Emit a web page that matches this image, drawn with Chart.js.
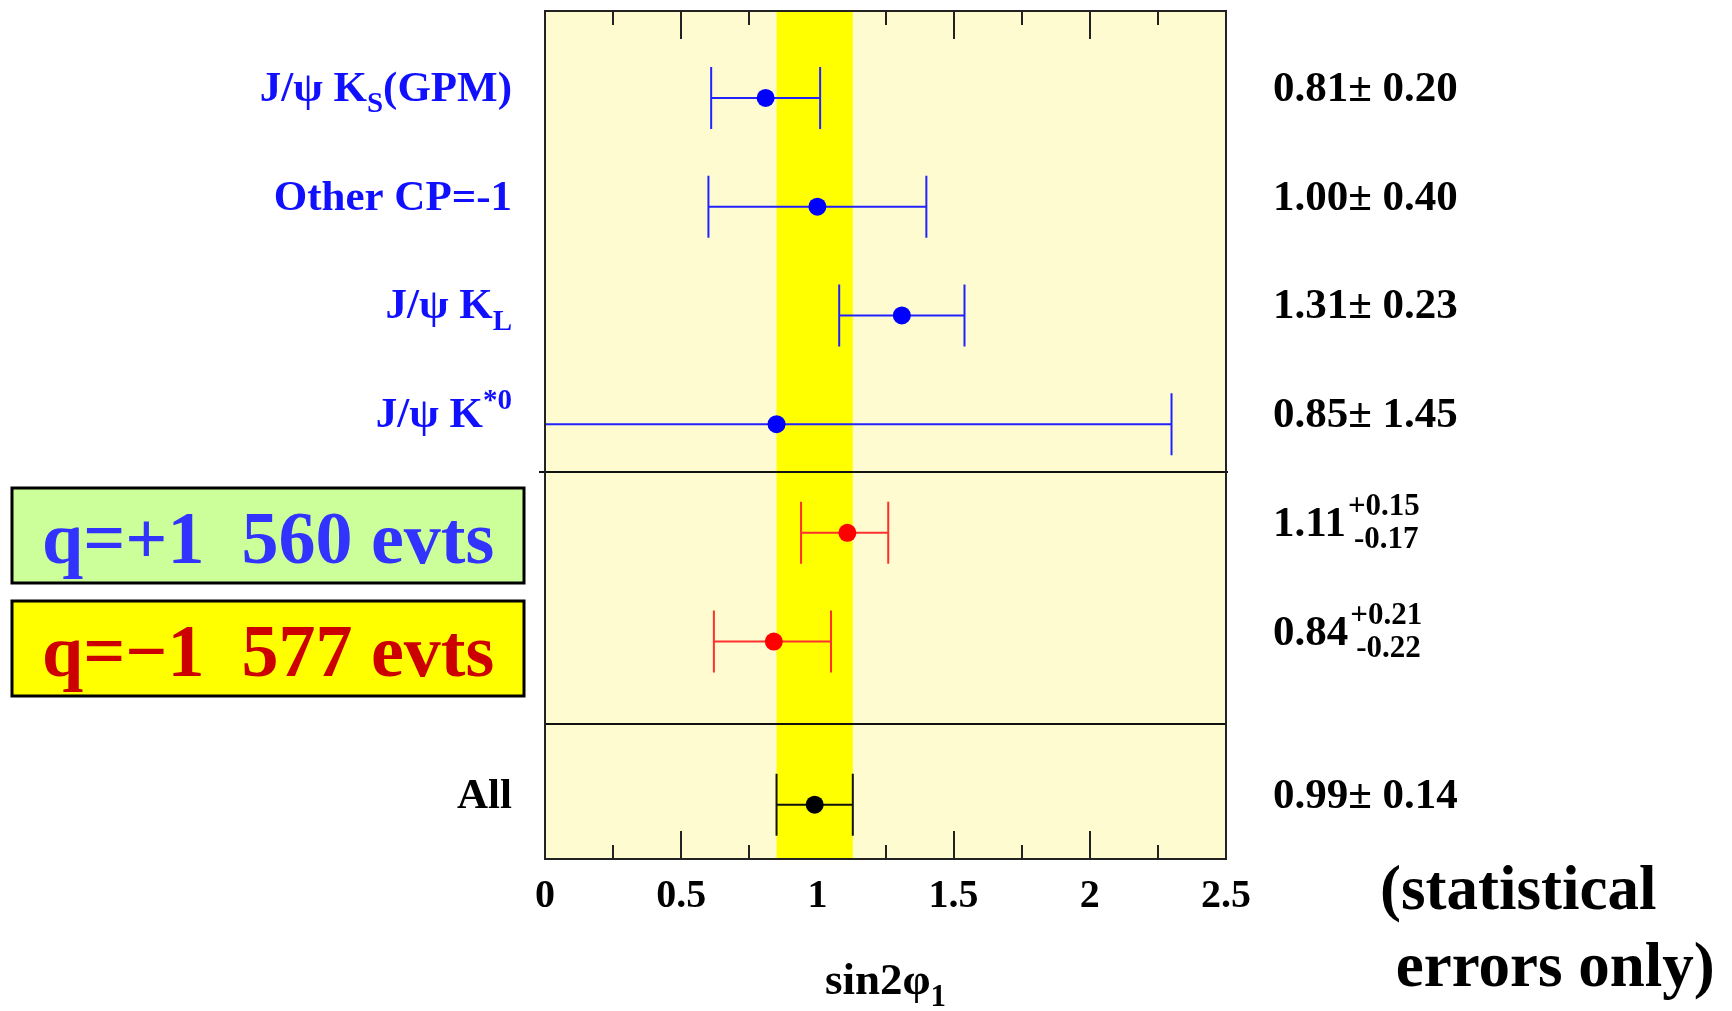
<!DOCTYPE html>
<html><head><meta charset="utf-8">
<script src="https://cdn.jsdelivr.net/npm/chart.js@4.4.0/dist/chart.umd.min.js"></script>
<style>html,body{margin:0;padding:0;background:#fff;overflow:hidden}#c{display:block}</style>
</head><body>
<canvas id="c" width="1732" height="1011"></canvas>
<script>
// ---------------- data ----------------
const channelLabels = [
  [['J/ψ K','n'],['S','sub'],['(GPM)','n']],
  [['Other CP=-1','n']],
  [['J/ψ K','n'],['L','sub']],
  [['J/ψ K','n'],['*0','sup']],
  null,
  null,
  [['All','n']]
];
const rowPos    = [1, 2, 3, 4, 5, 6, 7.5];
const values    = [0.81, 1.00, 1.31, 0.85, 1.11, 0.84, 0.99];
const errPlus   = [0.20, 0.40, 0.23, 1.45, 0.15, 0.21, 0.14];
const errMinus  = [0.20, 0.40, 0.23, 1.45, 0.17, 0.22, 0.14];
const groups    = ['blue','blue','blue','blue','red','red','black'];
const resultMain = ['0.81± 0.20','1.00± 0.40','1.31± 0.23','0.85± 1.45','1.11','0.84','0.99± 0.14'];
const resultUp   = [null,null,null,null,'+0.15','+0.21',null];
const resultDown = [null,null,null,null,'-0.17','-0.22',null];
const separators = [4.44, 6.76];
const bandRange  = [0.85, 1.13];
const xMin = 0, xMax = 2.5, xStep = 0.5, xMinorStep = 0.25;
const yMin = 0.2, yMax = 8;
const boxTexts = ['q=+1  560 evts', 'q=\u22121  577 evts'];
const xTitle = [['sin2φ','n'],['1','sub']];
const noteLines = ['(statistical', ' errors only)'];

// ---------------- styles ----------------
const FONT = '"Liberation Serif","Times New Roman",serif';
const markerColor = {blue:'#0000ff', red:'#ff0000', black:'#000000'};
const lineColor   = {blue:'#2222ff', red:'#ff3030', black:'#111111'};
const labelColor  = {blue:'#1010ff', red:'#cc0000', black:'#000000'};

function drawRich(ctx, parts, x, y, align, size, color, weight){
  const f = k => `${weight||'bold'} ${k==='n'?size:Math.round(size*0.68)}px ${FONT}`;
  let w = 0;
  parts.forEach(p=>{ctx.font=f(p[1]); w+=ctx.measureText(p[0]).width;});
  let cx = align==='right' ? x-w : (align==='center' ? x-w/2 : x);
  ctx.fillStyle = color;
  ctx.textAlign = 'left';
  ctx.textBaseline = 'alphabetic';
  parts.forEach(p=>{
    ctx.font = f(p[1]);
    const dy = p[1]==='sub' ? size*0.26 : (p[1]==='sup' ? -size*0.42 : 0);
    ctx.fillText(p[0], cx, y+dy);
    cx += ctx.measureText(p[0]).width;
  });
}

const backdrop = {
  id:'backdrop',
  beforeDraw(chart){
    const {ctx, chartArea:a, scales:{x,y}} = chart;
    ctx.save();
    ctx.fillStyle = '#fdfbcf';
    ctx.fillRect(a.left, a.top, a.right-a.left, a.bottom-a.top);
    // ticks
    ctx.strokeStyle = '#222'; ctx.lineWidth = 2;
    for (let v = xMin + xMinorStep; v < xMax - 1e-9; v += xMinorStep){
      const px = Math.round(x.getPixelForValue(v));
      const major = Math.abs(v/xStep - Math.round(v/xStep)) < 1e-6;
      const len = major ? 28 : 14;
      ctx.beginPath();
      ctx.moveTo(px, a.bottom); ctx.lineTo(px, a.bottom-len);
      ctx.moveTo(px, a.top); ctx.lineTo(px, a.top+len);
      ctx.stroke();
    }
    // band
    const b0 = x.getPixelForValue(bandRange[0]), b1 = x.getPixelForValue(bandRange[1]);
    ctx.fillStyle = '#ffff00';
    ctx.fillRect(b0, a.top, b1-b0, a.bottom-a.top);
    // separators
    ctx.strokeStyle = '#111'; ctx.lineWidth = 2;
    separators.forEach((s,i)=>{
      const py = Math.round(y.getPixelForValue(s));
      ctx.beginPath();
      ctx.moveTo(a.left - (i===0?6:0), py); ctx.lineTo(a.right + (i===0?2:0), py);
      ctx.stroke();
    });
    ctx.restore();
  },
  beforeDatasetsDraw(chart){
    const {ctx, chartArea:a, scales:{x,y}} = chart;
    ctx.save();
    ctx.beginPath(); ctx.rect(a.left, a.top-40, a.right-a.left, a.bottom-a.top+80); ctx.clip();
    ctx.lineWidth = 2;
    values.forEach((v,i)=>{
      const py = y.getPixelForValue(rowPos[i]);
      const lo = x.getPixelForValue(v-errMinus[i]);
      const hi = x.getPixelForValue(v+errPlus[i]);
      ctx.strokeStyle = lineColor[groups[i]];
      ctx.beginPath();
      ctx.moveTo(lo, py); ctx.lineTo(hi, py);
      const cap = 31;
      [lo,hi].forEach(cx=>{
        if (cx >= a.left && cx <= a.right){ ctx.moveTo(cx, py-cap); ctx.lineTo(cx, py+cap); }
      });
      ctx.stroke();
    });
    ctx.restore();
  },
  afterDatasetsDraw(chart){
    const {ctx, chartArea:a, scales:{x,y}} = chart;
    ctx.save();
    // frame
    ctx.strokeStyle = '#222'; ctx.lineWidth = 2;
    ctx.strokeRect(a.left, a.top, a.right-a.left, a.bottom-a.top);
    // left labels
    values.forEach((v,i)=>{
      const py = y.getPixelForValue(rowPos[i]) + 3;
      if (channelLabels[i]) drawRich(ctx, channelLabels[i], a.left-33, py, 'right', 43, labelColor[groups[i]]);
      // right labels
      const rx = a.right + 47;
      ctx.font = `bold 43px ${FONT}`;
      ctx.fillStyle = '#000'; ctx.textAlign='left'; ctx.textBaseline='alphabetic';
      ctx.fillText(resultMain[i], rx, py);
      if (resultUp[i]){
        const w = ctx.measureText(resultMain[i]).width;
        ctx.font = `bold 31px ${FONT}`;
        ctx.fillText(resultUp[i], rx + w + 2, py - 21);
        ctx.fillText(resultDown[i], rx + w + 8, py + 12);
      }
    });
    // x title
    drawRich(ctx, xTitle, (a.left+a.right)/2, 994, 'center', 45, '#000');
    // note
    ctx.font = `bold 63px ${FONT}`; ctx.fillStyle='#000'; ctx.textAlign='left';
    ctx.fillText(noteLines[0], 1380, 909);
    ctx.fillText(noteLines[1], 1380, 986);
    // boxes
    const boxes = [{y:488, fill:'#ccff99', color:'#3333ff'}, {y:601, fill:'#ffff00', color:'#cc0000'}];
    boxes.forEach((b,i)=>{
      ctx.fillStyle = b.fill;
      ctx.fillRect(12, b.y, 512, 95);
      ctx.strokeStyle = '#000'; ctx.lineWidth = 3;
      ctx.strokeRect(12, b.y, 512, 95);
      ctx.font = `bold 74px ${FONT}`; ctx.fillStyle = b.color;
      ctx.fillText(boxTexts[i], 42, b.y + 75);
    });
    ctx.restore();
  }
};

new Chart(document.getElementById('c'), {
  type:'scatter',
  data:{datasets:[{
    data: values.map((v,i)=>({x:v, y:rowPos[i]})),
    pointBackgroundColor: groups.map(g=>markerColor[g]),
    pointBorderWidth:0, pointRadius:9, pointHoverRadius:9
  }]},
  options:{
    responsive:false, animation:false, devicePixelRatio:1,
    layout:{padding:{left:545, right:506, top:11, bottom:0}},
    plugins:{legend:{display:false}, tooltip:{enabled:false}},
    scales:{
      x:{type:'linear', min:xMin, max:xMax, position:'bottom',
         grid:{display:false, drawTicks:false}, border:{display:false},
         ticks:{stepSize:xStep, color:'#000', padding:14, maxRotation:0,
                callback: v => String(Math.round(v*100)/100),
                font:{family:FONT, size:40, weight:'bold'}},
         afterFit(s){ s.height = 152; }},
      y:{type:'linear', min:yMin, max:yMax, reverse:true, display:false}
    }
  },
  plugins:[backdrop]
});
</script>
</body></html>
